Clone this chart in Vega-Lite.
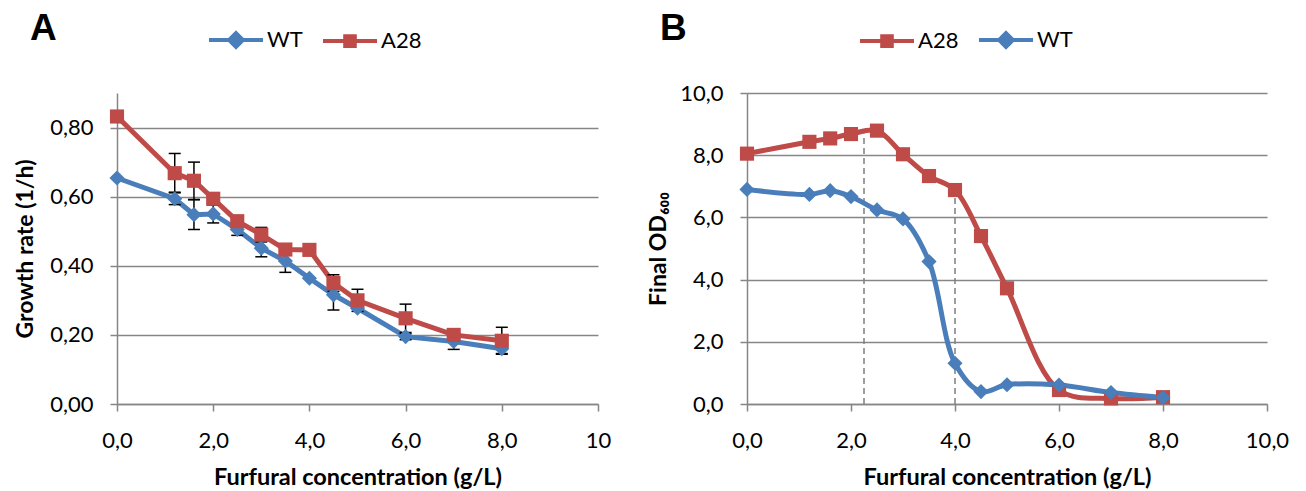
{
  "$schema": "https://vega.github.io/schema/vega-lite/v6.json",
  "background": "white",
  "padding": {"left": 14, "top": 10, "right": 30, "bottom": 8},
  "config": {
    "font": "Lato",
    "view": {"stroke": null},
    "axis": {
      "labelFont": "Lato", "labelFontSize": 22, "labelColor": "#000000",
      "titleFont": "Lato", "titleFontSize": 23, "titleFontWeight": "bold", "titleColor": "#000000",
      "domainColor": "#868686", "domainWidth": 1.5,
      "tickColor": "#868686", "tickWidth": 1.5, "tickSize": 7,
      "gridColor": "#868686", "gridWidth": 1.5,
      "labelFlush": false, "labelOverlap": false
    },
    "legend": {
      "labelFont": "Lato", "labelFontSize": 22, "labelColor": "#000000",
      "symbolSize": 144, "labelOffset": 20
    }
  },
  "datasets": {
    "growth": [
      {"conc": 0, "strain": "WT", "rate": 0.654},
      {"conc": 1.2, "strain": "WT", "rate": 0.594},
      {"conc": 1.6, "strain": "WT", "rate": 0.548},
      {"conc": 2.0, "strain": "WT", "rate": 0.55},
      {"conc": 2.5, "strain": "WT", "rate": 0.505},
      {"conc": 3.0, "strain": "WT", "rate": 0.451},
      {"conc": 3.5, "strain": "WT", "rate": 0.414},
      {"conc": 4.0, "strain": "WT", "rate": 0.364},
      {"conc": 4.5, "strain": "WT", "rate": 0.316},
      {"conc": 5.0, "strain": "WT", "rate": 0.277},
      {"conc": 6.0, "strain": "WT", "rate": 0.195},
      {"conc": 7.0, "strain": "WT", "rate": 0.181},
      {"conc": 8.0, "strain": "WT", "rate": 0.16},
      {"conc": 0, "strain": "A28", "rate": 0.832},
      {"conc": 1.2, "strain": "A28", "rate": 0.668},
      {"conc": 1.6, "strain": "A28", "rate": 0.646},
      {"conc": 2.0, "strain": "A28", "rate": 0.594},
      {"conc": 2.5, "strain": "A28", "rate": 0.529},
      {"conc": 3.0, "strain": "A28", "rate": 0.49},
      {"conc": 3.5, "strain": "A28", "rate": 0.447},
      {"conc": 4.0, "strain": "A28", "rate": 0.446},
      {"conc": 4.5, "strain": "A28", "rate": 0.35},
      {"conc": 5.0, "strain": "A28", "rate": 0.3},
      {"conc": 6.0, "strain": "A28", "rate": 0.248},
      {"conc": 7.0, "strain": "A28", "rate": 0.2},
      {"conc": 8.0, "strain": "A28", "rate": 0.183}
    ],
    "errs": [
      {"conc": 1.2, "strain": "WT", "lo": 0.577, "hi": 0.611},
      {"conc": 1.6, "strain": "WT", "lo": 0.505, "hi": 0.591},
      {"conc": 2.0, "strain": "WT", "lo": 0.524, "hi": 0.576},
      {"conc": 2.5, "strain": "WT", "lo": 0.488, "hi": 0.522},
      {"conc": 3.0, "strain": "WT", "lo": 0.426, "hi": 0.476},
      {"conc": 3.5, "strain": "WT", "lo": 0.381, "hi": 0.447},
      {"conc": 4.5, "strain": "WT", "lo": 0.272, "hi": 0.36},
      {"conc": 6.0, "strain": "WT", "lo": 0.186, "hi": 0.204},
      {"conc": 7.0, "strain": "WT", "lo": 0.158, "hi": 0.204},
      {"conc": 8.0, "strain": "WT", "lo": 0.146, "hi": 0.174},
      {"conc": 1.2, "strain": "A28", "lo": 0.613, "hi": 0.725},
      {"conc": 1.6, "strain": "A28", "lo": 0.592, "hi": 0.7},
      {"conc": 3.0, "strain": "A28", "lo": 0.469, "hi": 0.511},
      {"conc": 4.5, "strain": "A28", "lo": 0.326, "hi": 0.374},
      {"conc": 5.0, "strain": "A28", "lo": 0.268, "hi": 0.332},
      {"conc": 6.0, "strain": "A28", "lo": 0.207, "hi": 0.289},
      {"conc": 8.0, "strain": "A28", "lo": 0.144, "hi": 0.222}
    ],
    "od": [
      {"conc": 0, "strain": "A28", "od": 8.05},
      {"conc": 1.2, "strain": "A28", "od": 8.43},
      {"conc": 1.6, "strain": "A28", "od": 8.54},
      {"conc": 2.0, "strain": "A28", "od": 8.68},
      {"conc": 2.5, "strain": "A28", "od": 8.79},
      {"conc": 3.0, "strain": "A28", "od": 8.03},
      {"conc": 3.5, "strain": "A28", "od": 7.33},
      {"conc": 4.0, "strain": "A28", "od": 6.88},
      {"conc": 4.5, "strain": "A28", "od": 5.4},
      {"conc": 5.0, "strain": "A28", "od": 3.72},
      {"conc": 6.0, "strain": "A28", "od": 0.45},
      {"conc": 7.0, "strain": "A28", "od": 0.18},
      {"conc": 8.0, "strain": "A28", "od": 0.22},
      {"conc": 0, "strain": "WT", "od": 6.9},
      {"conc": 1.2, "strain": "WT", "od": 6.74},
      {"conc": 1.6, "strain": "WT", "od": 6.86},
      {"conc": 2.0, "strain": "WT", "od": 6.67},
      {"conc": 2.5, "strain": "WT", "od": 6.24},
      {"conc": 3.0, "strain": "WT", "od": 5.95},
      {"conc": 3.5, "strain": "WT", "od": 4.58},
      {"conc": 4.0, "strain": "WT", "od": 1.31},
      {"conc": 4.5, "strain": "WT", "od": 0.4},
      {"conc": 5.0, "strain": "WT", "od": 0.62},
      {"conc": 6.0, "strain": "WT", "od": 0.61},
      {"conc": 7.0, "strain": "WT", "od": 0.37},
      {"conc": 8.0, "strain": "WT", "od": 0.21}
    ],
    "guides": [
      {"conc": 2.25, "base": 0, "top": 8.7},
      {"conc": 4.0, "base": 0, "top": 6.88}
    ]
  },
  "spacing": 149,
  "bounds": "flush",
  "resolve": {"scale": {"color": "independent", "shape": "independent", "size": "independent", "y": "independent", "x": "independent"}, "legend": {"color": "independent"}},
  "hconcat": [
    {
      "width": 481, "height": 311,
      "title": {"text": "A", "anchor": "start", "frame": "group", "font": "Liberation Sans", "fontSize": 37, "fontWeight": "bold", "color": "#000000", "dx": -87, "offset": -19},
      "encoding": {
        "x": {"field": "conc", "type": "quantitative", "scale": {"domain": [0, 10], "nice": false},
          "axis": {"values": [0, 2, 4, 6, 8, 10], "grid": false, "title": "Furfural concentration (g/L)", "titleFontSize": 23.5, "titleFontWeight": "bold", "labelPadding": 19, "titlePadding": 14,
            "labelExpr": "datum.value == 10 ? '10' : replace(format(datum.value, '.1f'), '.', ',')"}}
      },
      "layer": [
        {
          "data": {"name": "growth"},
          "mark": {"type": "line", "strokeWidth": 5},
          "encoding": {
            "y": {"field": "rate", "type": "quantitative", "scale": {"domain": [0, 0.9], "nice": false},
              "axis": {"values": [0, 0.2, 0.4, 0.6, 0.8], "grid": true, "title": "Growth rate (1/h)", "titleFontSize": 23, "titleFontWeight": "bold", "labelPadding": 17, "titlePadding": 12,
                "labelExpr": "replace(format(datum.value, '.2f'), '.', ',')"}},
            "color": {"field": "strain", "type": "nominal", "scale": {"domain": ["WT", "A28"], "range": ["#4a7ebb", "#be4b48"]},
              "legend": {"orient": "none", "legendX": 108, "legendY": -64, "direction": "horizontal", "title": null, "columnPadding": 12,
                "encode": {"symbols": {"update": {
                  "shape": {"signal": "datum.value === 'WT' ? 'M-4.5,0L4.5,0M0,-1.15L1.15,0L0,1.15L-1.15,0Z' : 'M-4.5,0L4.5,0M-0.8,-0.8L0.8,-0.8L0.8,0.8L-0.8,0.8Z'"},
                  "fill": {"signal": "datum.value === 'WT' ? '#4a7ebb' : '#be4b48'"},
                  "stroke": {"signal": "datum.value === 'WT' ? '#4a7ebb' : '#be4b48'"},
                  "strokeWidth": {"value": 4}, "opacity": {"value": 1}, "fillOpacity": {"value": 1}, "strokeOpacity": {"value": 1}}}}}}
          }
        },
        {
          "data": {"name": "errs"},
          "mark": {"type": "rule", "strokeWidth": 1.5, "color": "#000000"},
          "encoding": {"y": {"field": "lo", "type": "quantitative"}, "y2": {"field": "hi"}}
        },
        {
          "data": {"name": "errs"},
          "mark": {"type": "tick", "orient": "horizontal", "size": 12, "thickness": 1.5, "opacity": 1, "color": "#000000"},
          "encoding": {"y": {"field": "lo", "type": "quantitative"}}
        },
        {
          "data": {"name": "errs"},
          "mark": {"type": "tick", "orient": "horizontal", "size": 12, "thickness": 1.5, "opacity": 1, "color": "#000000"},
          "encoding": {"y": {"field": "hi", "type": "quantitative"}}
        },
        {
          "data": {"name": "growth"},
          "mark": {"type": "point", "filled": true, "opacity": 1},
          "encoding": {"y": {"field": "rate", "type": "quantitative"},
            "color": {"field": "strain", "type": "nominal", "legend": null},
            "shape": {"field": "strain", "type": "nominal", "scale": {"domain": ["A28", "WT"], "range": ["square", "diamond"]}, "legend": null},
            "size": {"field": "strain", "type": "nominal", "scale": {"domain": ["A28", "WT"], "range": [200, 230]}, "legend": null}}
        }
      ]
    },
    {
      "width": 520, "height": 311,
      "title": {"text": "B", "anchor": "start", "frame": "group", "font": "Liberation Sans", "fontSize": 37, "fontWeight": "bold", "color": "#000000", "dx": -87, "offset": -19},
      "encoding": {
        "x": {"field": "conc", "type": "quantitative", "scale": {"domain": [0, 10], "nice": false},
          "axis": {"values": [0, 2, 4, 6, 8, 10], "grid": false, "title": "Furfural concentration (g/L)", "titleFontSize": 23.5, "titleFontWeight": "bold", "labelPadding": 19, "titlePadding": 14,
            "labelExpr": "replace(format(datum.value, '.1f'), '.', ',')"}}
      },
      "layer": [
        {
          "data": {"name": "guides"},
          "mark": {"type": "rule", "strokeWidth": 1.5, "strokeDash": [6, 4], "color": "#7f7f7f"},
          "encoding": {"y": {"field": "base", "type": "quantitative", "scale": {"domain": [0, 10], "nice": false},
            "axis": {"values": [0, 2, 4, 6, 8, 10], "grid": true, "title": "Final OD₆₀₀", "titleFontSize": 23, "titleFontWeight": "bold", "labelPadding": 17, "titlePadding": 9,
              "labelExpr": "replace(format(datum.value, '.1f'), '.', ',')"}},
            "y2": {"field": "top"}}
        },
        {
          "data": {"name": "od"},
          "mark": {"type": "line", "strokeWidth": 5, "interpolate": "catmull-rom"},
          "encoding": {"y": {"field": "od", "type": "quantitative"},
            "color": {"field": "strain", "type": "nominal", "scale": {"domain": ["A28", "WT"], "range": ["#be4b48", "#4a7ebb"]},
              "legend": {"orient": "none", "legendX": 129, "legendY": -64, "direction": "horizontal", "title": null, "columnPadding": 12,
                "encode": {"symbols": {"update": {
                  "shape": {"signal": "datum.value === 'WT' ? 'M-4.5,0L4.5,0M0,-1.15L1.15,0L0,1.15L-1.15,0Z' : 'M-4.5,0L4.5,0M-0.8,-0.8L0.8,-0.8L0.8,0.8L-0.8,0.8Z'"},
                  "fill": {"signal": "datum.value === 'WT' ? '#4a7ebb' : '#be4b48'"},
                  "stroke": {"signal": "datum.value === 'WT' ? '#4a7ebb' : '#be4b48'"},
                  "strokeWidth": {"value": 4}, "opacity": {"value": 1}, "fillOpacity": {"value": 1}, "strokeOpacity": {"value": 1}}}}}}}
        },
        {
          "data": {"name": "od"},
          "mark": {"type": "point", "filled": true, "opacity": 1},
          "encoding": {"y": {"field": "od", "type": "quantitative"},
            "color": {"field": "strain", "type": "nominal", "legend": null},
            "shape": {"field": "strain", "type": "nominal", "scale": {"domain": ["WT", "A28"], "range": ["diamond", "square"]}, "legend": null},
            "size": {"field": "strain", "type": "nominal", "scale": {"domain": ["WT", "A28"], "range": [230, 200]}, "legend": null}}
        }
      ]
    }
  ]
}
